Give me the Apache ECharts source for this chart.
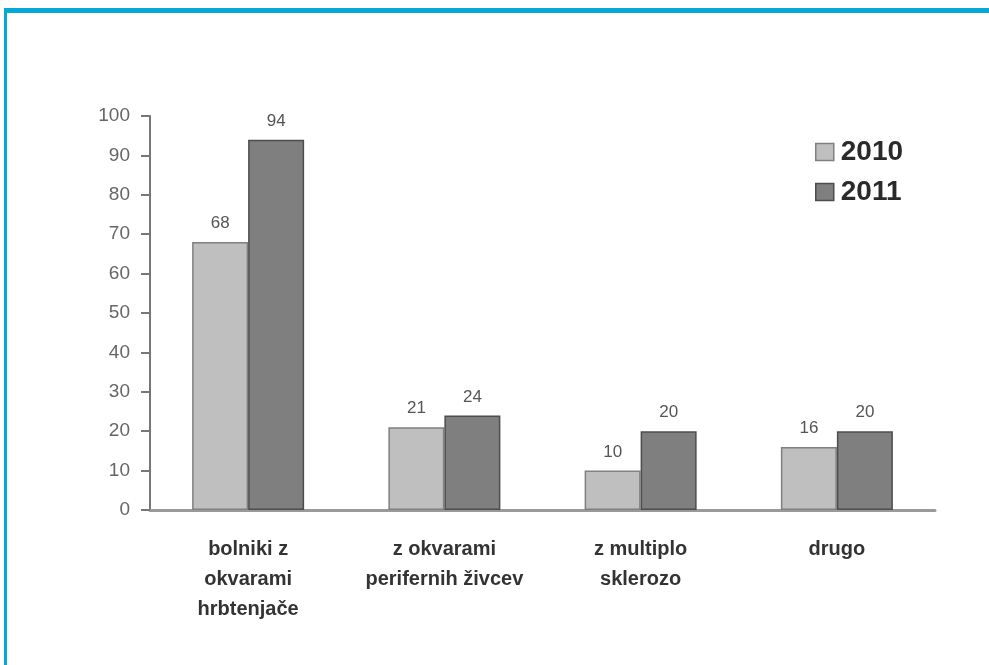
<!DOCTYPE html>
<html>
<head>
<meta charset="utf-8">
<script src="https://cdn.jsdelivr.net/npm/echarts@6/dist/echarts.min.js"></script>
<style>
  html, body { margin: 0; padding: 0; background: #fff; }
  #frame {
    position: absolute; left: 4px; top: 8px; width: 985px; height: 657px;
    border-top: 5px solid #06a8d6; border-left: 3px solid #06a8d6;
    box-sizing: border-box;
  }
  #chart { position: absolute; left: 0; top: 0; width: 989px; height: 665px; }
</style>
</head>
<body>
<div id="frame"></div>
<div id="chart"></div>
<script>
const categories = ['bolniki z\nokvarami\nhrbtenjače', 'z okvarami\nperifernih živcev', 'z multiplo\nsklerozo', 'drugo'];
const values2010 = [68, 21, 10, 16];
const values2011 = [94, 24, 20, 20];

const chart = echarts.init(document.getElementById('chart'));

const labelStyle = {
    show: true,
    position: 'top',
    distance: 10,
    color: '#555',
    fontSize: 17,
    fontFamily: 'Liberation Sans'
};

chart.setOption({
    animation: false,
    grid: { left: 150, right: 54, top: 116, bottom: 155 },
    legend: {
        orient: 'vertical',
        left: 810,
        top: 133,
        icon: 'rect',
        itemWidth: 18,
        itemHeight: 17,
        itemGap: 12,
        textStyle: { fontSize: 28, fontWeight: 'bold', color: '#2a2a2a', fontFamily: 'Liberation Sans', padding: [0, 0, 0, 2] },
        data: [
            { name: '2010', itemStyle: { color: '#bfbfbf', borderColor: '#808080', borderWidth: 1.5 } },
            { name: '2011', itemStyle: { color: '#7f7f7f', borderColor: '#4d4d4d', borderWidth: 1.5 } }
        ]
    },
    xAxis: {
        type: 'category',
        data: categories,
        axisLine: { lineStyle: { color: '#9a9a9a', width: 3 } },
        axisTick: { show: false },
        axisLabel: {
            interval: 0,
            hideOverlap: false,
            margin: 24,
            fontSize: 20,
            fontWeight: 'bold',
            color: '#333',
            lineHeight: 30,
            fontFamily: 'Liberation Sans'
        }
    },
    yAxis: {
        type: 'value',
        min: 0,
        max: 100,
        interval: 10,
        splitLine: { show: false },
        axisLine: { show: true, lineStyle: { color: '#777', width: 2 } },
        axisTick: { show: true, length: 9, lineStyle: { color: '#777', width: 2 } },
        axisLabel: { margin: 20, fontSize: 19, color: '#666', fontFamily: 'Liberation Sans' }
    },
    series: [
        {
            name: '2010',
            type: 'bar',
            data: values2010,
            barWidth: 56,
            barGap: '0%',
            itemStyle: { color: '#bfbfbf', borderColor: '#808080', borderWidth: 1.5 },
            label: labelStyle
        },
        {
            name: '2011',
            type: 'bar',
            data: values2011,
            barWidth: 56,
            barGap: '0%',
            itemStyle: { color: '#7f7f7f', borderColor: '#4d4d4d', borderWidth: 1.5 },
            label: labelStyle
        }
    ]
});
</script>
</body>
</html>
